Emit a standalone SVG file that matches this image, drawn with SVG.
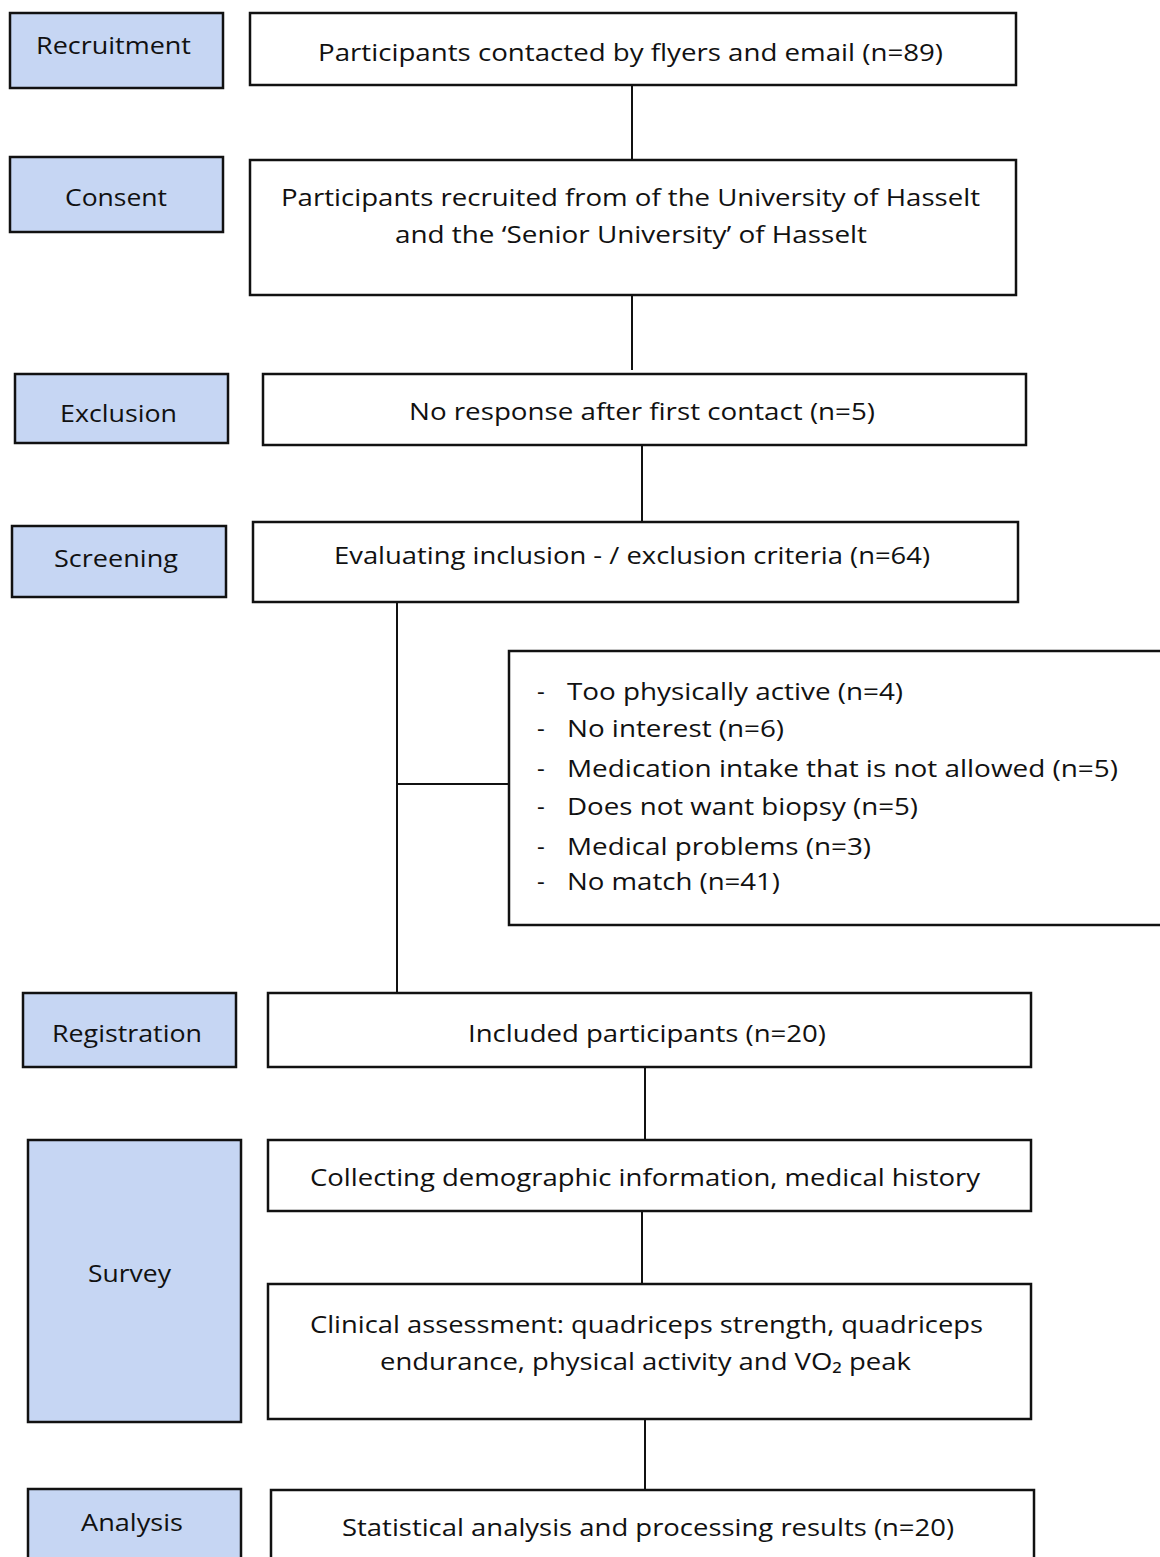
<svg xmlns="http://www.w3.org/2000/svg" width="1160" height="1557" viewBox="0 0 1160 1557">
<style>
.lab rect{fill:#C6D6F3;stroke:#111;stroke-width:2.5}
.box rect{fill:#fff;stroke:#111;stroke-width:2.5}
text{font-family:"Open Sans","Noto Sans","Liberation Sans",sans-serif;font-size:24px;fill:#111}
.con line{stroke:#111;stroke-width:2}
</style>
<rect x="0" y="0" width="1160" height="1557" fill="#fff"/>
<g class="con">
<line x1="632" y1="85" x2="632" y2="160"/>
<line x1="632" y1="295" x2="632" y2="370"/>
<line x1="642" y1="445" x2="642" y2="522"/>
<line x1="397" y1="602" x2="397" y2="997"/>
<line x1="398" y1="784" x2="509" y2="784"/>
<line x1="645" y1="1067" x2="645" y2="1140"/>
<line x1="642" y1="1211" x2="642" y2="1284"/>
<line x1="645" y1="1419" x2="645" y2="1490"/>
</g>
<g id="recruitment" class="lab"><rect x="10" y="13" width="213" height="75"/><text x="36" y="54" textLength="155" lengthAdjust="spacingAndGlyphs">Recruitment</text></g>
<g id="consent" class="lab"><rect x="10" y="157" width="213" height="75"/><text x="65" y="206" textLength="102" lengthAdjust="spacingAndGlyphs">Consent</text></g>
<g id="exclusion" class="lab"><rect x="15" y="374" width="213" height="69"/><text x="60" y="422" textLength="117" lengthAdjust="spacingAndGlyphs">Exclusion</text></g>
<g id="screening" class="lab"><rect x="12" y="526" width="214" height="71"/><text x="54" y="567" textLength="124" lengthAdjust="spacingAndGlyphs">Screening</text></g>
<g id="registration" class="lab"><rect x="23" y="993" width="213" height="74"/><text x="52" y="1042" textLength="150" lengthAdjust="spacingAndGlyphs">Registration</text></g>
<g id="survey" class="lab"><rect x="28" y="1140" width="213" height="282"/><text x="88" y="1282" textLength="83" lengthAdjust="spacingAndGlyphs">Survey</text></g>
<g id="analysis" class="lab"><rect x="28" y="1489" width="213" height="80"/><text x="81" y="1531" textLength="102" lengthAdjust="spacingAndGlyphs">Analysis</text></g>

<g id="contacted" class="box"><rect x="250" y="13" width="766" height="72"/><text x="318" y="61" textLength="625" lengthAdjust="spacingAndGlyphs">Participants contacted by flyers and email (n=89)</text></g>
<g id="recruited" class="box"><rect x="250" y="160" width="766" height="135"/><text x="281" y="206" textLength="699" lengthAdjust="spacingAndGlyphs">Participants recruited from of the University of Hasselt</text><text x="395" y="243" textLength="472" lengthAdjust="spacingAndGlyphs">and the ‘Senior University’ of Hasselt</text></g>
<g id="noresponse" class="box"><rect x="263" y="374" width="763" height="71"/><text x="409" y="420" textLength="466" lengthAdjust="spacingAndGlyphs">No response after first contact (n=5)</text></g>
<g id="evaluating" class="box"><rect x="253" y="522" width="765" height="80"/><text x="334" y="564" textLength="596" lengthAdjust="spacingAndGlyphs">Evaluating inclusion - / exclusion criteria (n=64)</text></g>
<g id="excluded" class="box"><rect x="509" y="651" width="670" height="274"/>
<text x="537" y="700">-</text><text x="567" y="700" textLength="336" lengthAdjust="spacingAndGlyphs">Too physically active (n=4)</text>
<text x="537" y="737">-</text><text x="567" y="737" textLength="217" lengthAdjust="spacingAndGlyphs">No interest (n=6)</text>
<text x="537" y="777">-</text><text x="567" y="777" textLength="551" lengthAdjust="spacingAndGlyphs">Medication intake that is not allowed (n=5)</text>
<text x="537" y="815">-</text><text x="567" y="815" textLength="351" lengthAdjust="spacingAndGlyphs">Does not want biopsy (n=5)</text>
<text x="537" y="855">-</text><text x="567" y="855" textLength="304" lengthAdjust="spacingAndGlyphs">Medical problems (n=3)</text>
<text x="537" y="890">-</text><text x="567" y="890" textLength="213" lengthAdjust="spacingAndGlyphs">No match (n=41)</text>
</g>
<g id="included" class="box"><rect x="268" y="993" width="763" height="74"/><text x="468" y="1042" textLength="358" lengthAdjust="spacingAndGlyphs">Included participants (n=20)</text></g>
<g id="collecting" class="box"><rect x="268" y="1140" width="763" height="71"/><text x="310" y="1186" textLength="670" lengthAdjust="spacingAndGlyphs">Collecting demographic information, medical history</text></g>
<g id="clinical" class="box"><rect x="268" y="1284" width="763" height="135"/><text x="310" y="1333" textLength="673" lengthAdjust="spacingAndGlyphs">Clinical assessment: quadriceps strength, quadriceps</text><text x="380" y="1370" textLength="531" lengthAdjust="spacingAndGlyphs">endurance, physical activity and VO₂ peak</text></g>
<g id="statistical" class="box"><rect x="271" y="1490" width="763" height="80"/><text x="342" y="1536" textLength="612" lengthAdjust="spacingAndGlyphs">Statistical analysis and processing results (n=20)</text></g>
</svg>
